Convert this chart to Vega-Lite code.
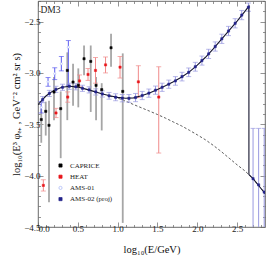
{
  "$schema": "https://vega.github.io/schema/vega-lite/v6.json",
  "width": 227,
  "height": 226,
  "autosize": "none",
  "padding": {"left": 38, "top": 1, "right": 1, "bottom": 28},
  "background": "white",
  "config": {
    "view": {"stroke": "#444", "strokeWidth": 0.8},
    "font": "Liberation Serif",
    "axis": {"domain": false, "grid": false, "labelFont": "Liberation Serif", "titleFont": "Liberation Serif", "labelColor": "#222", "titleColor": "#111", "tickColor": "#666", "tickWidth": 0.7, "titleFontWeight": "normal"}
  },
  "datasets": {
    "pts": [
      {"s": "CAPRICE", "x": 0.041, "y": -3.454, "hi": -3.35, "lo": -3.68},
      {"s": "CAPRICE", "x": 0.097, "y": -3.374, "hi": -3.28, "lo": -3.61},
      {"s": "CAPRICE", "x": 0.138, "y": -3.51, "hi": -3.27, "lo": -4.26},
      {"s": "CAPRICE", "x": 0.201, "y": -3.186, "hi": -3.04, "lo": -3.46},
      {"s": "CAPRICE", "x": 0.285, "y": -3.348, "hi": -3.18, "lo": -3.83},
      {"s": "CAPRICE", "x": 0.368, "y": -2.976, "hi": -2.8, "lo": -3.46},
      {"s": "CAPRICE", "x": 0.44, "y": -3.089, "hi": -2.91, "lo": -3.32},
      {"s": "CAPRICE", "x": 0.506, "y": -3.121, "hi": -2.956, "lo": -3.335},
      {"s": "CAPRICE", "x": 0.578, "y": -2.862, "hi": -2.733, "lo": -3.024},
      {"s": "CAPRICE", "x": 0.662, "y": -2.888, "hi": -2.733, "lo": -3.38},
      {"s": "CAPRICE", "x": 0.729, "y": -3.121, "hi": -3.04, "lo": -3.46},
      {"s": "CAPRICE", "x": 0.8, "y": -3.163, "hi": -3.1, "lo": -3.56},
      {"s": "CAPRICE", "x": 0.917, "y": -2.755, "hi": -2.62, "lo": -2.94},
      {"s": "CAPRICE", "x": 1.064, "y": -3.18, "hi": -2.81, "lo": -4.46},
      {"s": "HEAT", "x": 0.067, "y": -4.095, "hi": -4.04, "lo": -4.15},
      {"s": "HEAT", "x": 0.226, "y": -3.39, "hi": -3.345, "lo": -3.435},
      {"s": "HEAT", "x": 0.373, "y": -3.235, "hi": -3.185, "lo": -3.285},
      {"s": "HEAT", "x": 0.521, "y": -3.078, "hi": -3.02, "lo": -3.135},
      {"s": "HEAT", "x": 0.628, "y": -3.015, "hi": -2.957, "lo": -3.073},
      {"s": "HEAT", "x": 0.722, "y": -2.976, "hi": -2.85, "lo": -3.1},
      {"s": "HEAT", "x": 0.848, "y": -2.922, "hi": -2.845, "lo": -3.0},
      {"s": "HEAT", "x": 1.03, "y": -2.944, "hi": -2.84, "lo": -3.05},
      {"s": "HEAT", "x": 1.26, "y": -3.087, "hi": -2.93, "lo": -3.24},
      {"s": "HEAT", "x": 1.516, "y": -3.235, "hi": -2.94, "lo": -3.78},
      {"s": "AMS-01", "x": 0.04, "y": -3.335, "hi": -3.28, "lo": -3.39},
      {"s": "AMS-01", "x": 0.126, "y": -3.087, "hi": -3.045, "lo": -3.13},
      {"s": "AMS-01", "x": 0.21, "y": -3.008, "hi": -2.95, "lo": -3.065},
      {"s": "AMS-01", "x": 0.293, "y": -2.911, "hi": -2.84, "lo": -2.98},
      {"s": "AMS-01", "x": 0.381, "y": -2.75, "hi": -2.685, "lo": -3.12},
      {"s": "AMS-02 (proj)", "x": 0.058, "y": -3.26, "hi": -3.23, "lo": -3.29},
      {"s": "AMS-02 (proj)", "x": 0.142, "y": -3.2, "hi": -3.17, "lo": -3.23},
      {"s": "AMS-02 (proj)", "x": 0.225, "y": -3.16, "hi": -3.13, "lo": -3.19},
      {"s": "AMS-02 (proj)", "x": 0.308, "y": -3.14, "hi": -3.11, "lo": -3.17},
      {"s": "AMS-02 (proj)", "x": 0.392, "y": -3.13, "hi": -3.1, "lo": -3.16},
      {"s": "AMS-02 (proj)", "x": 0.475, "y": -3.135, "hi": -3.105, "lo": -3.165},
      {"s": "AMS-02 (proj)", "x": 0.558, "y": -3.15, "hi": -3.12, "lo": -3.18},
      {"s": "AMS-02 (proj)", "x": 0.642, "y": -3.165, "hi": -3.135, "lo": -3.195},
      {"s": "AMS-02 (proj)", "x": 0.725, "y": -3.185, "hi": -3.155, "lo": -3.215},
      {"s": "AMS-02 (proj)", "x": 0.808, "y": -3.205, "hi": -3.175, "lo": -3.235},
      {"s": "AMS-02 (proj)", "x": 0.892, "y": -3.223, "hi": -3.19, "lo": -3.256},
      {"s": "AMS-02 (proj)", "x": 0.975, "y": -3.237, "hi": -3.203, "lo": -3.271},
      {"s": "AMS-02 (proj)", "x": 1.058, "y": -3.246, "hi": -3.21, "lo": -3.282},
      {"s": "AMS-02 (proj)", "x": 1.142, "y": -3.248, "hi": -3.21, "lo": -3.286},
      {"s": "AMS-02 (proj)", "x": 1.225, "y": -3.24, "hi": -3.2, "lo": -3.28},
      {"s": "AMS-02 (proj)", "x": 1.308, "y": -3.22, "hi": -3.18, "lo": -3.26},
      {"s": "AMS-02 (proj)", "x": 1.392, "y": -3.197, "hi": -3.157, "lo": -3.237},
      {"s": "AMS-02 (proj)", "x": 1.475, "y": -3.168, "hi": -3.128, "lo": -3.208},
      {"s": "AMS-02 (proj)", "x": 1.558, "y": -3.14, "hi": -3.1, "lo": -3.18},
      {"s": "AMS-02 (proj)", "x": 1.642, "y": -3.11, "hi": -3.07, "lo": -3.15},
      {"s": "AMS-02 (proj)", "x": 1.725, "y": -3.078, "hi": -3.036, "lo": -3.12},
      {"s": "AMS-02 (proj)", "x": 1.808, "y": -3.036, "hi": -2.994, "lo": -3.078},
      {"s": "AMS-02 (proj)", "x": 1.892, "y": -2.994, "hi": -2.952, "lo": -3.036},
      {"s": "AMS-02 (proj)", "x": 1.975, "y": -2.94, "hi": -2.897, "lo": -2.983},
      {"s": "AMS-02 (proj)", "x": 2.058, "y": -2.88, "hi": -2.836, "lo": -2.924},
      {"s": "AMS-02 (proj)", "x": 2.142, "y": -2.815, "hi": -2.77, "lo": -2.86},
      {"s": "AMS-02 (proj)", "x": 2.225, "y": -2.743, "hi": -2.698, "lo": -2.788},
      {"s": "AMS-02 (proj)", "x": 2.308, "y": -2.668, "hi": -2.623, "lo": -2.713},
      {"s": "AMS-02 (proj)", "x": 2.392, "y": -2.592, "hi": -2.547, "lo": -2.637},
      {"s": "AMS-02 (proj)", "x": 2.475, "y": -2.517, "hi": -2.472, "lo": -2.562},
      {"s": "AMS-02 (proj)", "x": 2.558, "y": -2.437, "hi": -2.392, "lo": -2.482},
      {"s": "AMS-02 (proj)", "x": 2.642, "y": -2.36, "hi": -2.32, "lo": -2.4},
      {"s": "AMS-02 (proj)", "x": 2.7, "y": -4.03, "hi": -3.54, "lo": -4.7},
      {"s": "AMS-02 (proj)", "x": 2.77, "y": -4.09, "hi": -3.54, "lo": -4.7},
      {"s": "AMS-02 (proj)", "x": 2.84, "y": -4.16, "hi": -3.54, "lo": -4.7}
    ],
    "total": [
      {"i": 0, "x": 0.0, "y": -3.31},
      {"i": 1, "x": 0.05, "y": -3.265},
      {"i": 2, "x": 0.1, "y": -3.225},
      {"i": 3, "x": 0.15, "y": -3.195},
      {"i": 4, "x": 0.2, "y": -3.17},
      {"i": 5, "x": 0.3, "y": -3.14},
      {"i": 6, "x": 0.4, "y": -3.13},
      {"i": 7, "x": 0.5, "y": -3.138},
      {"i": 8, "x": 0.6, "y": -3.158},
      {"i": 9, "x": 0.7, "y": -3.18},
      {"i": 10, "x": 0.8, "y": -3.203},
      {"i": 11, "x": 0.9, "y": -3.223},
      {"i": 12, "x": 1.0, "y": -3.238},
      {"i": 13, "x": 1.1, "y": -3.247},
      {"i": 14, "x": 1.2, "y": -3.243},
      {"i": 15, "x": 1.3, "y": -3.222},
      {"i": 16, "x": 1.4, "y": -3.195},
      {"i": 17, "x": 1.5, "y": -3.162},
      {"i": 18, "x": 1.6, "y": -3.126},
      {"i": 19, "x": 1.7, "y": -3.087},
      {"i": 20, "x": 1.8, "y": -3.042},
      {"i": 21, "x": 1.9, "y": -2.99},
      {"i": 22, "x": 2.0, "y": -2.925},
      {"i": 23, "x": 2.1, "y": -2.85},
      {"i": 24, "x": 2.2, "y": -2.765},
      {"i": 25, "x": 2.3, "y": -2.675},
      {"i": 26, "x": 2.4, "y": -2.585},
      {"i": 27, "x": 2.5, "y": -2.495},
      {"i": 28, "x": 2.6, "y": -2.398},
      {"i": 29, "x": 2.648, "y": -2.35},
      {"i": 30, "x": 2.648, "y": -3.99},
      {"i": 31, "x": 2.7, "y": -4.03},
      {"i": 32, "x": 2.8, "y": -4.125},
      {"i": 33, "x": 2.9, "y": -4.22}
    ],
    "bg": [
      {"x": 0.9, "y": -3.226},
      {"x": 1.0, "y": -3.245},
      {"x": 1.1, "y": -3.275},
      {"x": 1.2, "y": -3.308},
      {"x": 1.3, "y": -3.34},
      {"x": 1.4, "y": -3.372},
      {"x": 1.5, "y": -3.405},
      {"x": 1.6, "y": -3.44},
      {"x": 1.7, "y": -3.478},
      {"x": 1.8, "y": -3.515},
      {"x": 1.9, "y": -3.558},
      {"x": 2.0, "y": -3.603},
      {"x": 2.1, "y": -3.65},
      {"x": 2.2, "y": -3.705},
      {"x": 2.3, "y": -3.765},
      {"x": 2.4, "y": -3.83},
      {"x": 2.5, "y": -3.895},
      {"x": 2.6, "y": -3.955},
      {"x": 2.7, "y": -4.03},
      {"x": 2.8, "y": -4.125},
      {"x": 2.9, "y": -4.22}
    ],
    "label": [{"x": 0.03, "y": -2.39, "t": "DM3"}]
  },
  "layer": [
    {
      "data": {"name": "bg"},
      "mark": {"type": "line", "color": "#333", "strokeWidth": 0.8, "strokeDash": [2.5, 2], "clip": true},
      "encoding": {
        "x": {"field": "x", "type": "quantitative", "scale": {"domain": [0, 2.85], "nice": false, "zero": false},
          "axis": {"orient": "top", "title": null, "labels": false, "values": [0,0.1,0.2,0.3,0.4,0.5,0.6,0.7,0.8,0.9,1,1.1,1.2,1.3,1.4,1.5,1.6,1.7,1.8,1.9,2,2.1,2.2,2.3,2.4,2.5,2.6,2.7,2.8],
            "tickSize": {"condition": {"test": "abs(datum.value*2 - round(datum.value*2)) < 0.01", "value": -5}, "value": -2.5}}},
        "y": {"field": "y", "type": "quantitative", "scale": {"domain": [-4.5, -2.3], "nice": false, "zero": false},
          "axis": {"orient": "right", "title": null, "labels": false, "values": [-4.5,-4.4,-4.3,-4.2,-4.1,-4,-3.9,-3.8,-3.7,-3.6,-3.5,-3.4,-3.3,-3.2,-3.1,-3,-2.9,-2.8,-2.7,-2.6,-2.5,-2.4,-2.3],
            "tickSize": {"condition": {"test": "abs(datum.value*2 - round(datum.value*2)) < 0.01", "value": -5}, "value": -2.5}}}
      }
    },
    {
      "data": {"name": "pts"},
      "transform": [{"filter": "datum.s == 'CAPRICE'"}],
      "mark": {"type": "rule", "color": "#a6a6a6", "strokeWidth": 1.8, "clip": true},
      "encoding": {
        "x": {"field": "x", "type": "quantitative", "axis": null},
        "y": {"field": "lo", "type": "quantitative", "axis": null},
        "y2": {"field": "hi"}
      }
    },
    {
      "data": {"name": "pts"},
      "transform": [{"filter": "datum.s == 'HEAT'"}],
      "mark": {"type": "errorbar", "ticks": true, "color": "#f08a8a", "thickness": 1, "clip": true},
      "encoding": {
        "x": {"field": "x", "type": "quantitative", "axis": null},
        "y": {"field": "lo", "type": "quantitative", "axis": null},
        "y2": {"field": "hi"}
      }
    },
    {
      "data": {"name": "pts"},
      "transform": [{"filter": "datum.s == 'AMS-01'"}],
      "mark": {"type": "errorbar", "ticks": true, "color": "#5b5bf0", "thickness": 1, "clip": true},
      "encoding": {
        "x": {"field": "x", "type": "quantitative", "axis": null},
        "y": {"field": "lo", "type": "quantitative", "axis": null},
        "y2": {"field": "hi"}
      }
    },
    {
      "data": {"name": "pts"},
      "transform": [{"filter": "datum.s == 'AMS-02 (proj)'"}],
      "mark": {"type": "errorbar", "ticks": true, "color": "#9a9ae0", "thickness": 1, "clip": true},
      "encoding": {
        "x": {"field": "x", "type": "quantitative", "axis": null},
        "y": {"field": "lo", "type": "quantitative", "axis": null},
        "y2": {"field": "hi"}
      }
    },
    {
      "data": {"name": "total"},
      "mark": {"type": "line", "color": "#15152e", "strokeWidth": 1.1, "clip": true},
      "encoding": {
        "x": {"field": "x", "type": "quantitative",
          "axis": {"orient": "bottom", "title": "log₁₀(E/GeV)", "titleFontSize": 10.5, "titlePadding": 11, "labelFontSize": 9, "labelPadding": 2,
            "values": [0,0.1,0.2,0.3,0.4,0.5,0.6,0.7,0.8,0.9,1,1.1,1.2,1.3,1.4,1.5,1.6,1.7,1.8,1.9,2,2.1,2.2,2.3,2.4,2.5,2.6,2.7,2.8],
            "labelExpr": "abs(datum.value*2 - round(datum.value*2)) < 0.01 ? format(datum.value, '.1f') : ''",
            "tickSize": {"condition": {"test": "abs(datum.value*2 - round(datum.value*2)) < 0.01", "value": -5}, "value": -2.5}}},
        "y": {"field": "y", "type": "quantitative",
          "axis": {"orient": "left", "title": "log₁₀(E³ φₑ₊ , GeV⁻² cm² sr s)", "titleFontSize": 10.5, "titlePadding": 2, "labelFontSize": 9, "labelPadding": 3,
            "values": [-4.5,-4.4,-4.3,-4.2,-4.1,-4,-3.9,-3.8,-3.7,-3.6,-3.5,-3.4,-3.3,-3.2,-3.1,-3,-2.9,-2.8,-2.7,-2.6,-2.5,-2.4,-2.3],
            "labelExpr": "abs(datum.value*2 - round(datum.value*2)) < 0.01 ? format(datum.value, '.1f') : ''",
            "tickSize": {"condition": {"test": "abs(datum.value*2 - round(datum.value*2)) < 0.01", "value": -5}, "value": -2.5}}},
        "order": {"field": "i", "type": "quantitative"}
      }
    },
    {
      "data": {"name": "pts"},
      "mark": {"type": "point", "filled": true, "size": 5, "strokeWidth": 0.5, "opacity": 1, "clip": true},
      "encoding": {
        "x": {"field": "x", "type": "quantitative", "axis": null},
        "y": {"field": "y", "type": "quantitative", "axis": null},
        "fill": {"field": "s", "type": "nominal", "scale": {"domain": ["CAPRICE", "HEAT", "AMS-01", "AMS-02 (proj)"], "range": ["#000000", "#e8161b", "#ffffff", "#23238a"]},
          "legend": {"title": null, "orient": "none", "legendX": 19, "legendY": 161, "labelFont": "Liberation Serif", "labelFontSize": 7, "labelColor": "#222", "symbolSize": 10, "rowPadding": 3.2, "labelOffset": 6, "symbolStrokeWidth": 0.7}},
        "stroke": {"field": "s", "type": "nominal", "scale": {"domain": ["CAPRICE", "HEAT", "AMS-01", "AMS-02 (proj)"], "range": ["#000000", "#e8161b", "#a3b3f5", "#23238a"]}},
        "shape": {"field": "s", "type": "nominal", "scale": {"domain": ["CAPRICE", "HEAT", "AMS-01", "AMS-02 (proj)"], "range": ["square", "square", "circle", "square"]}}
      }
    },
    {
      "data": {"name": "label"},
      "mark": {"type": "text", "align": "left", "baseline": "middle", "font": "Liberation Serif", "fontSize": 9.5, "color": "#222"},
      "encoding": {
        "x": {"field": "x", "type": "quantitative", "axis": null},
        "y": {"field": "y", "type": "quantitative", "axis": null},
        "text": {"field": "t"}
      }
    }
  ]
}
